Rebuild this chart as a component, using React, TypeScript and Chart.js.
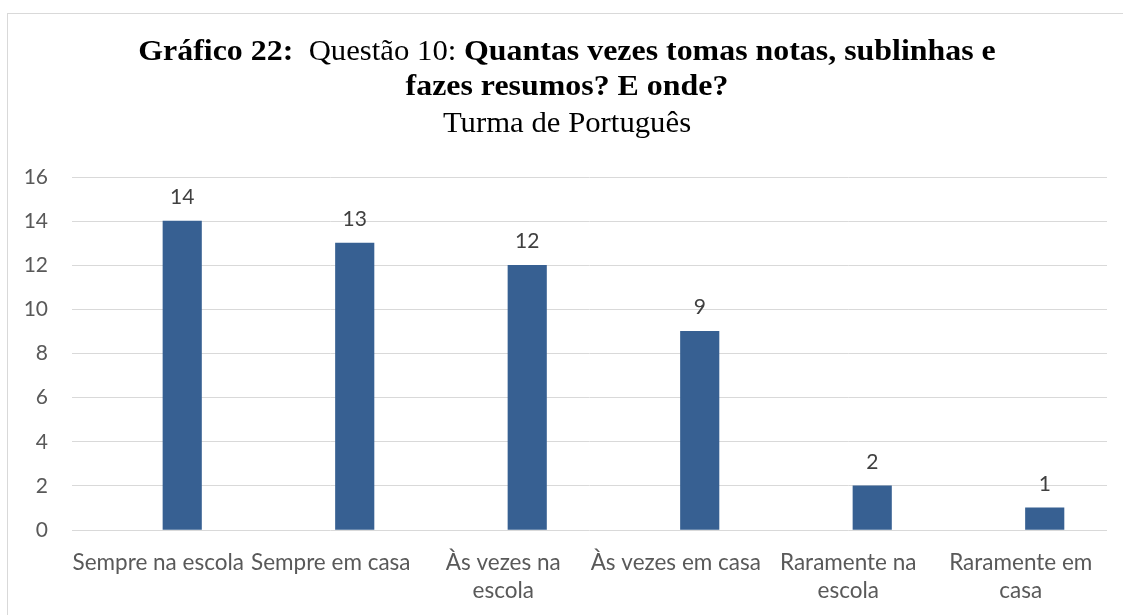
import React, { useEffect, useRef } from "react";
import { Chart, registerables } from "chart.js";

Chart.register(...registerables);

// ---- data ----
const categories: string[][] = [
  ["Sempre na escola"],
  ["Sempre em casa"],
  ["Às vezes na", "escola"],
  ["Às vezes em casa"],
  ["Raramente na", "escola"],
  ["Raramente em", "casa"],
];
const values: number[] = [14, 13, 12, 9, 2, 1];
const yMin = 0;
const yMax = 16;
const yStep = 2;

const titleLine1 = [
  { text: "Gráfico 22:", bold: true },
  { text: "  Questão 10: ", bold: false },
  { text: "Quantas vezes tomas notas, sublinhas e", bold: true },
];
const titleLine2 = "fazes resumos? E onde?";
const subtitle = "Turma de Português";

// ---- style ----
const SANS = "Lato, 'Open Sans', sans-serif";
const SERIF = "'Liberation Serif', 'Times New Roman', serif";
const TITLE_SIZE = 29;
const BOLD_STRETCH = 1.1;
const REG_STRETCH = 1.06;
const TITLE_CX = 567;
const BAR_COLOR = "#376092";
const GRID_COLOR = "#d9d9d9";
const TICK_COLOR = "#595959";
const LABEL_COLOR = "#404040";
const BAR_SHIFT = 0.139; // bars sit slightly right of category centres in the reference

const framePlugin = {
  id: "frameAndTitle",
  afterDraw(chart: any) {
    const ctx = chart.ctx as CanvasRenderingContext2D;
    ctx.save();
    // frame
    ctx.strokeStyle = GRID_COLOR;
    ctx.lineWidth = 1;
    ctx.strokeRect(7.5, 13.5, 1140, 640);
    ctx.fillStyle = "#000000";
    ctx.textBaseline = "alphabetic";
    ctx.textAlign = "left";
    const fontFor = (b: boolean) => `${b ? "bold " : ""}${TITLE_SIZE}px ${SERIF}`;
    const drawLine = (segs: { text: string; bold: boolean }[], y: number) => {
      let total = 0;
      const widths = segs.map((s) => {
        ctx.font = fontFor(s.bold);
        const w = ctx.measureText(s.text).width * (s.bold ? BOLD_STRETCH : REG_STRETCH);
        total += w;
        return w;
      });
      let x = TITLE_CX - total / 2;
      segs.forEach((s, i) => {
        ctx.font = fontFor(s.bold);
        ctx.save();
        ctx.translate(x, y);
        ctx.scale(s.bold ? BOLD_STRETCH : REG_STRETCH, 1);
        ctx.fillText(s.text, 0, 0);
        ctx.restore();
        x += widths[i];
      });
    };
    drawLine(titleLine1, 59.5);
    drawLine([{ text: titleLine2, bold: true }], 95);
    drawLine([{ text: subtitle, bold: false }], 131.5);
    ctx.restore();
  },
};

const dataLabelPlugin = {
  id: "dataLabels",
  afterDatasetsDraw(chart: any) {
    const ctx = chart.ctx as CanvasRenderingContext2D;
    const meta = chart.getDatasetMeta(0);
    ctx.save();
    ctx.font = `21px ${SANS}`;
    ctx.fillStyle = LABEL_COLOR;
    ctx.textAlign = "center";
    ctx.textBaseline = "alphabetic";
    meta.data.forEach((el: any, i: number) => {
      ctx.fillText(String(values[i]), el.x, el.y - 17);
    });
    ctx.restore();
  },
};

export default function App() {
  const ref = useRef<HTMLCanvasElement | null>(null);
  useEffect(() => {
    if (!ref.current) return;
    const chart = new Chart(ref.current, {
      type: "bar",
      data: {
        datasets: [
          {
            data: values.map((v, i) => ({ x: i, y: v })),
            xAxisID: "xb",
            backgroundColor: BAR_COLOR,
            borderWidth: 0,
            barThickness: 38.5,
          } as any,
        ],
      },
      options: {
        animation: false,
        responsive: false,
        layout: { padding: { top: 177, right: 16, bottom: 0, left: 0 } },
        plugins: { legend: { display: false }, title: { display: false }, tooltip: { enabled: false } },
        scales: {
          x: {
            type: "category",
            labels: categories as any,
            offset: true,
            grid: { display: false, drawTicks: false },
            border: { display: false },
            ticks: {
              color: TICK_COLOR,
              font: { family: SANS, size: 22.5, lineHeight: 1.25 },
              padding: 19,
              maxRotation: 0,
              minRotation: 0,
              autoSkip: false,
            },
            afterFit(scale: any) {
              scale.height = 85;
            },
          },
          xb: {
            type: "linear",
            display: false,
            offset: false,
            min: -0.5 - BAR_SHIFT,
            max: 5.5 - BAR_SHIFT,
            grid: { display: false },
          },
          y: {
            min: yMin,
            max: yMax,
            grid: { color: GRID_COLOR, lineWidth: 1, drawTicks: false },
            border: { display: false },
            ticks: {
              stepSize: yStep,
              color: TICK_COLOR,
              font: { family: SANS, size: 21 },
              padding: 24,
            },
            afterFit(scale: any) {
              scale.width = 72;
            },
          },
        },
      } as any,
      plugins: [framePlugin, dataLabelPlugin],
    });
    return () => chart.destroy();
  }, []);
  return (
    <div style={{ position: "fixed", left: 0, top: 0, width: 1123, height: 615, background: "#fff" }}>
      <canvas ref={ref} width={1123} height={615} style={{ display: "block" }} />
    </div>
  );
}
